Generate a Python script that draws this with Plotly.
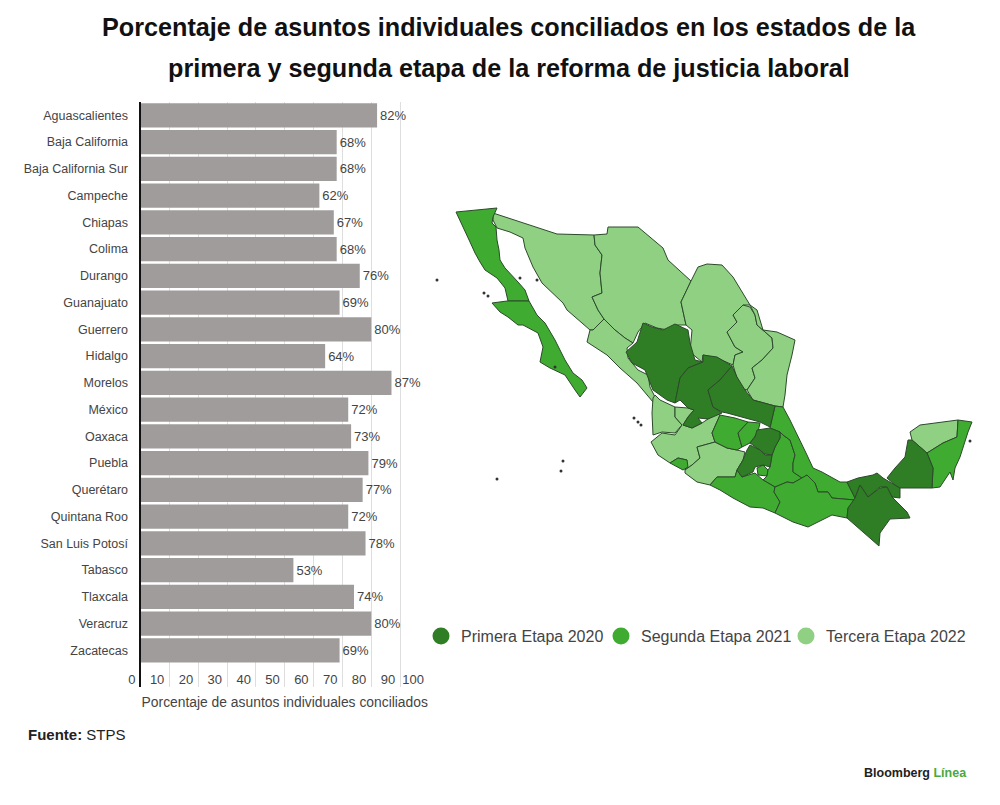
import plotly.graph_objects as go

estados = [
    "Aguascalientes", "Baja California", "Baja California Sur", "Campeche", "Chiapas",
    "Colima", "Durango", "Guanajuato", "Guerrero", "Hidalgo", "Morelos", "México",
    "Oaxaca", "Puebla", "Querétaro", "Quintana Roo", "San Luis Potosí", "Tabasco",
    "Tlaxcala", "Veracruz", "Zacatecas",
]
conciliados = [82, 68, 68, 62, 67, 68, 76, 69, 80, 64, 87, 72, 73, 79, 77, 72, 78, 53, 74, 80, 69]
ticks_x = [0, 10, 20, 30, 40, 50, 60, 70, 80, 90, 100]

etapas = ["Primera Etapa 2020", "Segunda Etapa 2021", "Tercera Etapa 2022"]
colores = ["#2f7d25", "#3fab30", "#8fd083"]

# outlines, in the map axes' own units
baja_california = [(456, 212), (497, 208), (493, 217), (492, 223), (496, 227), (497, 240), (499, 250), (500, 260),
                   (505, 268), (512, 275), (518, 282), (525, 290), (529, 301), (508, 301), (505, 288), (497, 278),
                   (485, 270), (480, 262), (475, 253), (470, 242), (463, 227)]
baja_sur = [(507, 301), (529, 301), (537, 315), (545, 323), (555, 340), (565, 360), (573, 373), (582, 380), (587, 388),
            (580, 397), (575, 390), (565, 375), (550, 368), (540, 362), (543, 347), (538, 333), (523, 325), (518, 325),
            (508, 317), (500, 312), (492, 303)]
sonora = [(493, 213), (557, 234), (594, 235), (595, 245), (602, 255), (600, 273), (602, 293), (592, 297), (598, 310),
          (604, 319), (593, 330), (590, 330), (582, 323), (567, 310), (563, 303), (542, 283), (533, 267), (525, 248),
          (523, 238), (510, 232), (497, 228), (493, 220)]
chihuahua = [(594, 235), (607, 234), (608, 227), (638, 227), (663, 248), (668, 260), (691, 281), (681, 302), (686, 325),
             (677, 325), (668, 330), (657, 328), (645, 323), (638, 332), (633, 343), (625, 338), (615, 330), (604, 319),
             (598, 310), (592, 297), (602, 293), (600, 273), (602, 255), (595, 245)]
sinaloa = [(604, 319), (615, 330), (625, 338), (633, 343), (627, 348), (628, 358), (638, 370), (648, 375), (650, 387),
           (655, 397), (653, 402), (637, 383), (620, 368), (607, 355), (587, 342), (590, 330), (593, 330)]
durango = [(643, 323), (652, 327), (663, 330), (675, 324), (688, 330), (690, 343), (695, 360), (703, 362), (688, 368),
           (680, 378), (675, 403), (667, 400), (653, 390), (645, 370), (632, 363), (626, 352), (637, 342)]
zacatecas = [(703, 362), (703, 355), (717, 357), (732, 366), (720, 380), (708, 390), (713, 407), (722, 413), (708, 419),
             (698, 418), (702, 423), (692, 428), (683, 425), (688, 417), (694, 410), (688, 408), (680, 400), (675, 403),
             (680, 378), (688, 368)]
aguascalientes = [(700, 415), (707, 406), (715, 412), (708, 419), (702, 417)]
san_luis = [(732, 366), (737, 377), (745, 390), (753, 400), (775, 406), (770, 427), (760, 422), (743, 417), (727, 413),
            (722, 412), (713, 407), (708, 390), (720, 380)]
coahuila = [(691, 281), (698, 267), (707, 264), (722, 265), (733, 277), (742, 292), (750, 305), (743, 305), (733, 315),
            (737, 322), (727, 332), (735, 347), (743, 352), (735, 355), (733, 365), (717, 358), (703, 355), (702, 362),
            (690, 352), (692, 330), (686, 325), (681, 302)]
nuevo_leon = [(743, 305), (750, 307), (755, 315), (757, 325), (772, 338), (773, 348), (762, 360), (752, 368), (755, 378),
              (747, 390), (740, 388), (733, 365), (735, 355), (743, 352), (735, 347), (727, 332), (737, 322), (733, 315)]
tamaulipas = [(750, 305), (757, 310), (763, 330), (777, 332), (795, 340), (792, 355), (787, 375), (785, 395), (783, 407),
              (775, 406), (753, 400), (747, 390), (755, 378), (752, 368), (762, 360), (773, 348), (772, 338), (757, 325),
              (755, 315)]
nayarit = [(653, 398), (655, 395), (660, 400), (675, 407), (675, 417), (682, 425), (675, 433), (662, 432), (653, 435),
           (652, 413)]
jalisco = [(651, 442), (662, 433), (675, 435), (682, 425), (675, 417), (675, 407), (688, 408), (694, 410), (688, 417),
           (683, 425), (692, 428), (702, 423), (708, 419), (715, 413), (720, 415), (712, 433), (715, 442), (697, 447),
           (700, 458), (692, 465), (685, 470), (687, 460), (678, 458), (670, 463), (658, 455)]
colima = [(670, 463), (678, 458), (687, 460), (688, 467), (683, 470)]
michoacan = [(685, 470), (692, 465), (700, 458), (697, 447), (715, 442), (727, 448), (737, 450), (745, 452), (743, 460),
             (737, 470), (735, 477), (717, 477), (710, 485), (697, 482), (685, 473)]
guanajuato = [(720, 415), (735, 418), (748, 422), (738, 433), (742, 447), (737, 450), (727, 448), (715, 442), (712, 433)]
queretaro = [(748, 422), (760, 423), (758, 432), (750, 443), (742, 447), (738, 433)]
hidalgo = [(757, 430), (770, 428), (780, 432), (780, 438), (775, 447), (772, 455), (765, 454), (750, 443), (755, 437)]
mexico = [(750, 445), (760, 450), (765, 455), (772, 455), (770, 467), (763, 465), (755, 467), (753, 472), (742, 477),
          (737, 470), (743, 460), (747, 450)]
cdmx = [(759, 460), (765, 459), (764, 465), (760, 465)]
morelos = [(757, 468), (763, 465), (768, 470), (767, 476), (758, 475)]
tlaxcala = [(772, 458), (780, 455), (787, 460), (780, 464)]
puebla = [(780, 432), (783, 435), (790, 440), (795, 455), (793, 463), (793, 472), (802, 478), (793, 483), (787, 482),
          (775, 487), (763, 480), (767, 476), (768, 470), (770, 467), (772, 455), (775, 447), (780, 438)]
guerrero = [(710, 485), (717, 477), (735, 477), (737, 470), (742, 477), (755, 473), (763, 480), (775, 487), (774, 492),
            (780, 502), (775, 513), (763, 508), (750, 507), (733, 498), (720, 490)]
veracruz = [(775, 406), (783, 407), (790, 420), (800, 440), (807, 455), (813, 468), (822, 472), (840, 482), (847, 482),
            (855, 498), (855, 500), (832, 498), (828, 492), (818, 492), (815, 483), (807, 475), (802, 478), (793, 472),
            (793, 463), (795, 455), (790, 440), (783, 435), (780, 432), (770, 428)]
oaxaca = [(775, 487), (787, 482), (793, 483), (802, 478), (807, 475), (815, 483), (818, 492), (828, 492), (832, 498),
          (855, 500), (848, 508), (847, 518), (832, 515), (808, 527), (793, 522), (775, 513), (780, 502), (774, 492)]
tabasco = [(847, 482), (858, 478), (873, 475), (877, 473), (883, 478), (895, 485), (900, 488), (900, 498), (892, 497),
           (887, 487), (880, 487), (868, 497), (860, 485), (855, 498)]
chiapas = [(855, 498), (860, 485), (868, 497), (880, 488), (887, 487), (892, 497), (907, 512), (910, 518), (890, 519),
           (880, 533), (879, 546), (847, 518), (848, 508)]
campeche = [(912, 440), (927, 453), (933, 468), (932, 488), (900, 488), (895, 485), (887, 478), (895, 468), (905, 457),
            (908, 440)]
yucatan = [(910, 432), (920, 425), (958, 420), (957, 437), (943, 443), (927, 453), (912, 440)]
quintana_roo = [(958, 420), (972, 422), (968, 432), (960, 457), (955, 468), (953, 480), (950, 472), (940, 487),
                (932, 488), (933, 468), (927, 453), (943, 443), (957, 437)]

primera = [durango, zacatecas, san_luis, hidalgo, mexico, tabasco, chiapas, campeche]
segunda = [baja_california, baja_sur, aguascalientes, colima, guanajuato, queretaro, morelos, tlaxcala, puebla,
           guerrero, veracruz, oaxaca, quintana_roo]
tercera = [sonora, chihuahua, sinaloa, coahuila, nuevo_leon, tamaulipas, nayarit, jalisco, michoacan, cdmx, yucatan]

islas_x = [437, 488, 520, 537, 484, 634, 638, 641, 563, 561, 497, 970, 555]
islas_y = [280, 296, 278, 280, 293, 418, 422, 425, 461, 471, 479, 441, 367]

fig = go.Figure()

fig.add_trace(go.Bar(
    x=conciliados, y=estados, orientation="h",
    marker_color="#a09c9b", marker_line_width=0,
    texttemplate="%{x}%", textposition="outside", cliponaxis=False,
    textfont=dict(size=13, color="#444444"),
    showlegend=False,
))

for etapa, grupo, color in zip(etapas, [tercera, segunda, primera], [colores[2], colores[1], colores[0]]):
    for contorno in grupo:
        fig.add_trace(go.Scatter(
            x=[p[0] for p in contorno] + [contorno[0][0]],
            y=[p[1] for p in contorno] + [contorno[0][1]],
            xaxis="x2", yaxis="y2", mode="lines", fill="toself",
            fillcolor=color, line=dict(color="#2c4a2a", width=1),
            name=etapa, showlegend=False, hoverinfo="name",
        ))

fig.add_trace(go.Scatter(
    x=islas_x, y=islas_y, xaxis="x2", yaxis="y2", mode="markers",
    marker=dict(color="#333333", size=3), showlegend=False, hoverinfo="skip",
))

# legend row, placed by hand as in the original
fig.add_trace(go.Scatter(
    x=[441, 621, 806], y=[636, 636, 636], xaxis="x2", yaxis="y2", mode="markers",
    marker=dict(color=colores, size=17), showlegend=False, hoverinfo="skip",
))
for etapa, x_texto in zip(etapas, [459, 639, 824]):
    fig.add_annotation(text=etapa, xref="x2", yref="y2", x=x_texto, y=636, xanchor="left",
                       showarrow=False, font=dict(size=16, color="#444444"))

fig.add_annotation(text="<b>Porcentaje de asuntos individuales conciliados en los estados de la</b>",
                   xref="paper", yref="paper", x=0.5095, y=1 - 27 / 805, yanchor="middle", showarrow=False,
                   font=dict(size=25.2, color="#111111"))
fig.add_annotation(text="<b>primera y segunda etapa de la reforma de justicia laboral</b>",
                   xref="paper", yref="paper", x=0.5095, y=1 - 68 / 805, yanchor="middle", showarrow=False,
                   font=dict(size=25.2, color="#111111"))
fig.add_annotation(text="<b>Fuente:</b> STPS", xref="paper", yref="paper", x=0.026, y=1 - 734 / 805,
                   xanchor="left", yanchor="middle", showarrow=False, font=dict(size=15, color="#222222"))
fig.add_annotation(text="<b>Bloomberg <span style='color:#4aa83c'>Línea</span></b>", xref="paper", yref="paper",
                   x=0.969, y=1 - 773 / 805, xanchor="right", yanchor="middle", showarrow=False,
                   font=dict(size=12.5, color="#222222"))

fig.update_layout(
    width=1000, height=805,
    margin=dict(l=0, r=0, t=0, b=0, autoexpand=False),
    paper_bgcolor="white", plot_bgcolor="rgba(0,0,0,0)",
    font=dict(family="Liberation Sans", color="#444444", size=13),
    bargap=0.09,
    xaxis=dict(domain=[0.1405, 0.429], range=[0, 100], tickvals=ticks_x,
               showgrid=True, gridcolor="#dedede", gridwidth=1, zeroline=False, showline=False,
               ticks="", ticklabelposition="inside left", ticklabeloverflow="allow",
               ticklabelstandoff=-6, ticklabelshift=-5,
               title=dict(text="Porcentaje de asuntos individuales conciliados", standoff=10,
                          font=dict(size=13.85, color="#444444"))),
    yaxis=dict(domain=[1 - 687 / 805, 1 - 102 / 805], type="category", categoryorder="array",
               categoryarray=estados, range=[21.37, -0.5], showgrid=False, zeroline=False,
               showline=True, linecolor="#111111", linewidth=2, ticks="", ticklabelstandoff=8,
               tickfont=dict(size=12.5)),
    xaxis2=dict(domain=[0, 1], range=[0, 1000], visible=False, fixedrange=True, anchor="y2"),
    yaxis2=dict(domain=[0, 1], range=[805, 0], visible=False, fixedrange=True, anchor="x2"),
)

fig.write_html("out.html", config={"displayModeBar": False}, post_script="document.body.style.margin='0';")
